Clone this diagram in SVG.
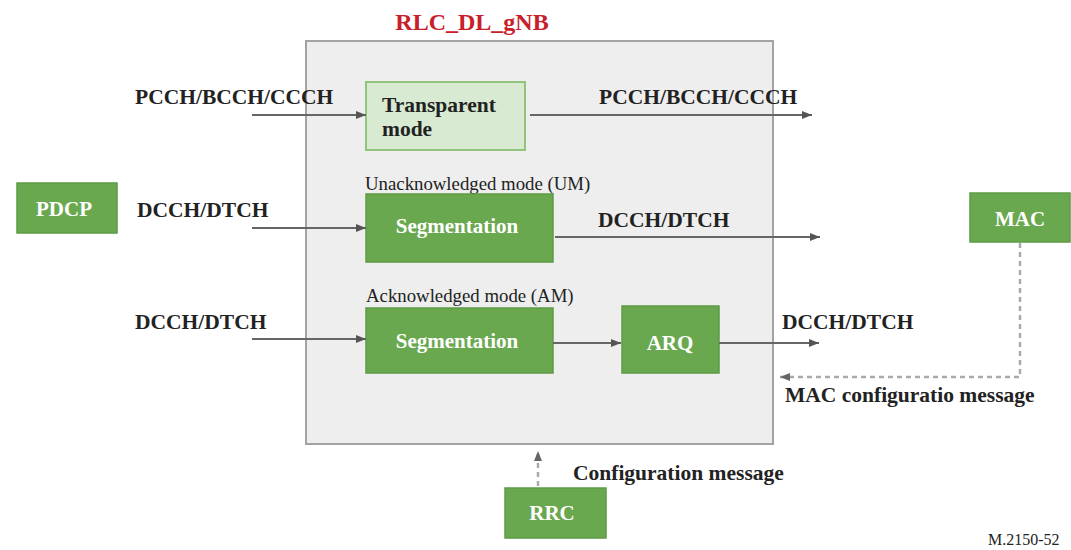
<svg xmlns="http://www.w3.org/2000/svg" width="1071" height="550" viewBox="0 0 1071 550">
<style>
.lbl{font-family:"Liberation Serif","Times New Roman",serif;font-weight:bold;font-size:21.5px;fill:#222}
.wt{font-family:"Liberation Serif","Times New Roman",serif;font-weight:bold;font-size:21px;fill:#fff}
.mode{font-family:"Liberation Serif","Times New Roman",serif;font-size:18.8px;fill:#222}
.g{fill:#6aa84f;stroke:#5e9a45;stroke-width:1.5}
.ln{stroke:#666;stroke-width:2;fill:none}
.dash{stroke:#aaa;stroke-width:2.5;fill:none;stroke-dasharray:5 4}
</style>
<defs>
<marker id="ah" viewBox="0 0 10 8" refX="10" refY="4" markerWidth="10" markerHeight="8" markerUnits="userSpaceOnUse" orient="auto">
<path d="M0,0 L10,4 L0,8 Z" fill="#555"/>
</marker>
<marker id="ahd" viewBox="0 0 10 8" refX="10" refY="4" markerWidth="10" markerHeight="8" markerUnits="userSpaceOnUse" orient="auto">
<path d="M0,0 L10,4 L0,8 Z" fill="#666"/>
</marker>
</defs>
<rect width="1071" height="550" fill="#fff"/>
<g id="rlc">
<rect x="306" y="41" width="467" height="403" fill="#eeeeee" stroke="#a3a3a3" stroke-width="2"/>
<text x="472" y="30" text-anchor="middle" font-family="Liberation Serif,serif" font-weight="bold" font-size="24" fill="#c8202a">RLC_DL_gNB</text>
<text class="mode" x="365" y="190">Unacknowledged mode (UM)</text>
<text class="mode" x="366" y="302">Acknowledged mode (AM)</text>
</g>
<g id="tm">
<rect x="366" y="82" width="159" height="68" fill="#d9ead3" stroke="#93c47d" stroke-width="2"/>
<text class="lbl" x="382" y="112">Transparent</text>
<text class="lbl" x="382" y="136">mode</text>
</g>
<g id="seg-um">
<rect class="g" x="366" y="194" width="187" height="68"/>
<text class="wt" x="457" y="233" text-anchor="middle">Segmentation</text>
</g>
<g id="seg-am">
<rect class="g" x="366" y="308" width="187" height="65"/>
<text class="wt" x="457" y="348" text-anchor="middle">Segmentation</text>
</g>
<g id="arq">
<rect class="g" x="622" y="306" width="97" height="67"/>
<text class="wt" x="670" y="350" text-anchor="middle">ARQ</text>
</g>
<g id="pdcp">
<rect class="g" x="17" y="183" width="100" height="50"/>
<text class="wt" x="64" y="216" text-anchor="middle">PDCP</text>
</g>
<g id="mac">
<rect class="g" x="970" y="193" width="100" height="49"/>
<text class="wt" x="1020" y="226" text-anchor="middle">MAC</text>
</g>
<g id="rrc">
<rect class="g" x="505" y="488" width="101" height="50"/>
<text class="wt" x="552" y="520" text-anchor="middle">RRC</text>
</g>
<g id="connectors">
<line class="ln" x1="252" y1="115" x2="366" y2="115" marker-end="url(#ah)"/>
<line class="ln" x1="530" y1="115" x2="812" y2="115" marker-end="url(#ah)"/>
<line class="ln" x1="252" y1="228" x2="366" y2="228" marker-end="url(#ah)"/>
<line class="ln" x1="555" y1="237" x2="820" y2="237" marker-end="url(#ah)"/>
<line class="ln" x1="252" y1="339" x2="366" y2="339" marker-end="url(#ah)"/>
<line class="ln" x1="553" y1="343" x2="621" y2="343" marker-end="url(#ah)"/>
<line class="ln" x1="719" y1="343" x2="819" y2="343" marker-end="url(#ah)"/>
<polyline class="dash" points="1020,243 1020,377 780,377" marker-end="url(#ahd)"/>
<line class="dash" x1="538" y1="486" x2="538" y2="451" marker-end="url(#ahd)"/>
</g>
<g id="labels">
<text class="lbl" x="135" y="104">PCCH/BCCH/CCCH</text>
<text class="lbl" x="599" y="104">PCCH/BCCH/CCCH</text>
<text class="lbl" x="137" y="217">DCCH/DTCH</text>
<text class="lbl" x="598" y="227">DCCH/DTCH</text>
<text class="lbl" x="135" y="329">DCCH/DTCH</text>
<text class="lbl" x="782" y="329">DCCH/DTCH</text>
<text class="lbl" x="785" y="402">MAC configuratio message</text>
<text class="lbl" x="573" y="480">Configuration message</text>
<text x="988" y="545" font-family="Liberation Serif,serif" font-size="16" fill="#222">M.2150-52</text>
</g>
</svg>
